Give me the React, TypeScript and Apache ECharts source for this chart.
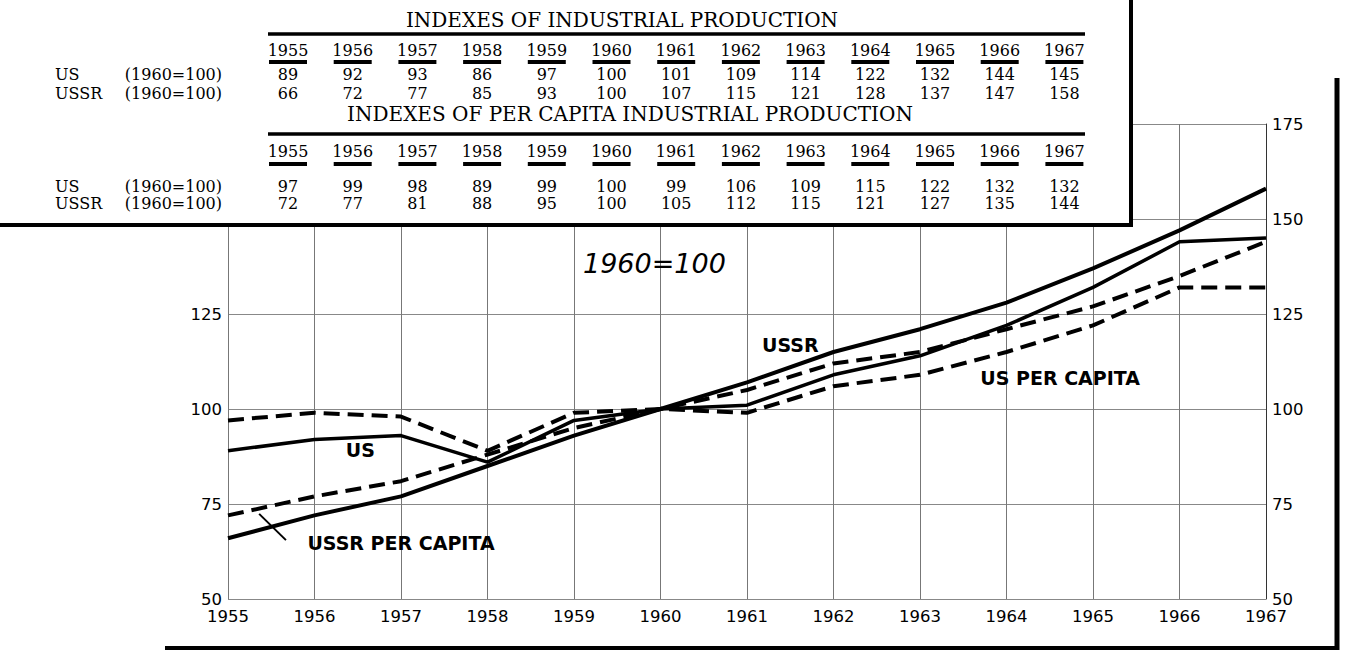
import React, { useEffect, useRef } from "react";
import * as echarts from "echarts";

// ---------- data ----------
const years = [1955, 1956, 1957, 1958, 1959, 1960, 1961, 1962, 1963, 1964, 1965, 1966, 1967];
const usIndex = [89, 92, 93, 86, 97, 100, 101, 109, 114, 122, 132, 144, 145];
const ussrIndex = [66, 72, 77, 85, 93, 100, 107, 115, 121, 128, 137, 147, 158];
const usPerCapita = [97, 99, 98, 89, 99, 100, 99, 106, 109, 115, 122, 132, 132];
const ussrPerCapita = [72, 77, 81, 88, 95, 100, 105, 112, 115, 121, 127, 135, 144];

const tableTitles = ["INDEXES OF INDUSTRIAL PRODUCTION", "INDEXES OF PER CAPITA INDUSTRIAL PRODUCTION"];
const rowNames = ["US", "USSR"];
const baseNote = "(1960=100)";
const chartTitle = "1960=100";
const yMin = 50;
const yMax = 175;
const yStep = 25;

// annotations in data coordinates [year, index]
const annotationTexts = ["US", "USSR", "US PER CAPITA", "USSR PER CAPITA"];
const annotationAt = [
  [1956.53, 89.3],
  [1961.5, 116.8],
  [1964.62, 108.2],
  [1957.0, 64.8],
];
const titleAt = [1959.93, 138.4];
const leaderLine = [
  [1955.36, 72.4],
  [1955.67, 65.5],
];

// ---------- layout ----------
const GRID = { left: 228, right: 82, top: 124, bottom: 57 };
const TABLE = {
  boxRight: 1131,
  boxBottom: 225,
  colStart: 288,
  colStep: 64.7,
  labelX: 55,
  noteRight: 222,
  ruleLeft: 268,
  ruleRight: 1085,
};
const BLOCKS = [
  { titleX: 622, titleY: 20, ruleY: 34, yearY: 50, lineY: 60, rowY: [74, 93] },
  { titleX: 630, titleY: 114, ruleY: 134, yearY: 151, lineY: 162, rowY: [186, 203] },
];
const SERIF = '"DejaVu Serif", serif';
const SANS = '"DejaVu Sans", sans-serif';

function txt(text: string, x: number, y: number, size: number, align: string, extra: any = {}) {
  return {
    type: "text",
    z: 110,
    x,
    y,
    silent: true,
    style: {
      text,
      fontFamily: SERIF,
      fontSize: size,
      fill: "#000",
      textAlign: align,
      textVerticalAlign: "middle",
      align,
      verticalAlign: "middle",
      ...extra,
    },
  };
}

function buildTable() {
  const els: any[] = [];
  els.push({
    type: "rect",
    z: 100,
    silent: true,
    shape: { x: 0, y: 0, width: TABLE.boxRight, height: TABLE.boxBottom },
    style: { fill: "#fff" },
  });
  const datasets = [
    [usIndex, ussrIndex],
    [usPerCapita, ussrPerCapita],
  ];
  BLOCKS.forEach((b, bi) => {
    els.push(txt(tableTitles[bi], b.titleX, b.titleY, 20, "center"));
    els.push({
      type: "line",
      z: 105,
      silent: true,
      shape: { x1: TABLE.ruleLeft, y1: b.ruleY, x2: TABLE.ruleRight, y2: b.ruleY },
      style: { stroke: "#000", lineWidth: 3.5 },
    });
    years.forEach((yr, i) => {
      const cx = TABLE.colStart + TABLE.colStep * i;
      els.push(txt(String(yr), cx, b.yearY, 16, "center"));
      els.push({
        type: "rect",
        z: 105,
        silent: true,
        shape: { x: cx - 19, y: b.lineY, width: 38, height: 4 },
        style: { fill: "#000" },
      });
      datasets[bi].forEach((vals, ri) => {
        els.push(txt(String(vals[i]), cx, b.rowY[ri], 16, "center"));
      });
    });
    rowNames.forEach((rn, ri) => {
      els.push(txt(rn, TABLE.labelX, b.rowY[ri], 16, "left"));
      els.push(txt(baseNote, TABLE.noteRight, b.rowY[ri], 16, "right"));
    });
  });
  els.push({
    type: "line",
    z: 106,
    silent: true,
    shape: { x1: 0, y1: TABLE.boxBottom, x2: TABLE.boxRight + 2, y2: TABLE.boxBottom },
    style: { stroke: "#000", lineWidth: 4 },
  });
  els.push({
    type: "line",
    z: 106,
    silent: true,
    shape: { x1: TABLE.boxRight, y1: 0, x2: TABLE.boxRight, y2: TABLE.boxBottom + 2 },
    style: { stroke: "#000", lineWidth: 4 },
  });
  // outer frame of the chart page
  els.push({
    type: "line",
    z: 106,
    silent: true,
    shape: { x1: 165, y1: 648, x2: 1339, y2: 648 },
    style: { stroke: "#000", lineWidth: 4 },
  });
  els.push({
    type: "line",
    z: 106,
    silent: true,
    shape: { x1: 1337, y1: 78, x2: 1337, y2: 650 },
    style: { stroke: "#000", lineWidth: 5 },
  });
  return els;
}

function pairs(vals: number[]) {
  return years.map((y, i) => [y, vals[i]]);
}

export default function App() {
  const ref = useRef<HTMLDivElement>(null);
  useEffect(() => {
    if (!ref.current) return;
    const chart = echarts.init(ref.current, undefined, { renderer: "svg" });
    const solid = (w: number) => ({ color: "#000", width: w, type: "solid" as const });
    const dashed = { color: "#000", width: 4, type: [16, 8] as any };
    const axisLabel = { fontFamily: SANS, fontSize: 16.5, color: "#000" };
    chart.setOption({
      animation: false,
      backgroundColor: "#fff",
      grid: { ...GRID, containLabel: false },
      xAxis: {
        type: "value",
        min: years[0],
        max: years[years.length - 1],
        interval: 1,
        axisLine: { show: false },
        axisTick: { show: false },
        axisLabel: { ...axisLabel, margin: 9, formatter: (v: number) => String(v) },
        splitLine: { show: true, lineStyle: { color: "#777", width: 1 } },
      },
      yAxis: [
        {
          type: "value",
          position: "left",
          min: yMin,
          max: yMax,
          interval: yStep,
          axisLine: { show: false },
          axisTick: { show: false },
          axisLabel: { ...axisLabel, margin: 6, formatter: (v: number) => (v <= 125 ? String(v) : "") },
          splitLine: { show: true, lineStyle: { color: "#888", width: 1 } },
        },
        {
          type: "value",
          position: "right",
          min: yMin,
          max: yMax,
          interval: yStep,
          axisLine: { show: true, lineStyle: { color: "#333", width: 1 } },
          axisTick: { show: false },
          axisLabel: { ...axisLabel, margin: 6 },
          splitLine: { show: false },
        },
      ],
      series: [
        { name: "US", type: "line", data: pairs(usIndex), symbol: "none", lineStyle: solid(3.5), z: 5 },
        { name: "USSR", type: "line", data: pairs(ussrIndex), symbol: "none", lineStyle: solid(4), z: 5 },
        { name: "US PER CAPITA", type: "line", data: pairs(usPerCapita), symbol: "none", lineStyle: dashed, z: 5 },
        { name: "USSR PER CAPITA", type: "line", data: pairs(ussrPerCapita), symbol: "none", lineStyle: dashed, z: 5 },
        {
          name: "leader",
          type: "line",
          data: leaderLine,
          symbol: "none",
          silent: true,
          lineStyle: solid(2),
          z: 5,
        },
        {
          name: "labels",
          type: "scatter",
          symbolSize: 0,
          silent: true,
          z: 6,
          itemStyle: { opacity: 1, color: "#000" },
          data: [
            ...annotationTexts.map((t, i) => ({ name: t, value: annotationAt[i] })),
            {
              name: chartTitle,
              value: titleAt,
              label: { fontStyle: "italic", fontWeight: "normal", fontSize: 27 },
            },
          ],
          label: {
            show: true,
            position: "inside",
            formatter: "{b}",
            color: "#000",
            opacity: 1,
            fontFamily: SANS,
            fontWeight: "bold",
            fontSize: 19,
          },
        },
      ],
      graphic: { elements: buildTable() },
    });
    return () => chart.dispose();
  }, []);
  return <div ref={ref} style={{ position: "fixed", left: 0, top: 0, width: 1348, height: 656 }} />;
}
